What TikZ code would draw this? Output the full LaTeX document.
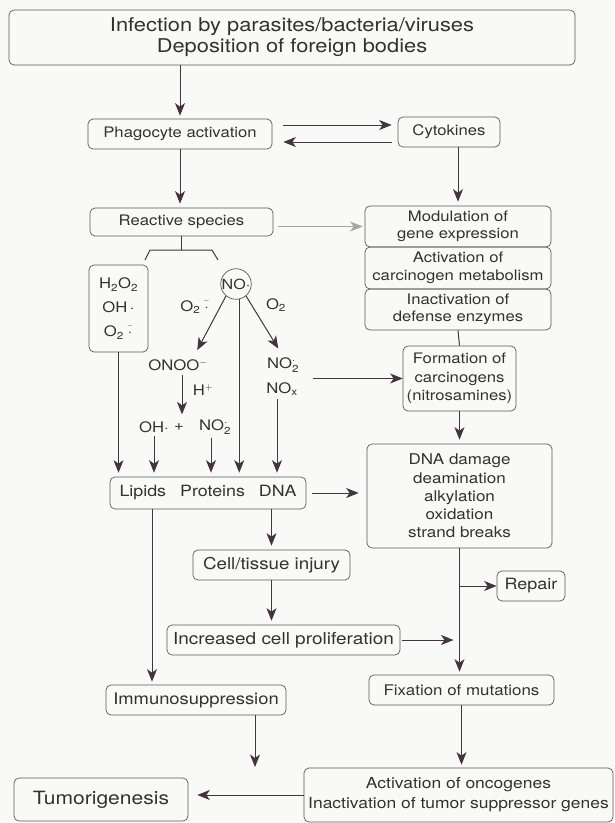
\documentclass[tikz,border=0pt]{standalone}
\usepackage{amsmath}
\usepackage{fontspec}
\setmainfont{TeX Gyre Heros}[FakeStretch=1.15]
\usetikzlibrary{arrows.meta}
\definecolor{ink}{RGB}{68,52,62}
\definecolor{rim}{RGB}{90,90,90}
\definecolor{txt}{RGB}{50,50,50}
\definecolor{paper}{RGB}{249,249,247}
\newcommand{\fs}[2]{\fontsize{#1}{#2}\selectfont}
\newcommand{\rad}{$_{\text{2}}^{\text{·}}$}
\newcommand{\supox}{O$_{\text{2}}\mskip4mu\overset{\raisebox{-2pt}{$\scriptscriptstyle-$}}{\cdot}$}

\begin{document}
\begin{tikzpicture}[x=1pt,y=-1pt,
  box/.style={draw=rim, line width=0.7pt, rounded corners=5pt, inner sep=0pt, align=center, text=txt},
  chem/.style={text=txt, font=\fs{14.5}{16}, inner sep=1pt},
  ln/.style={draw=ink, line width=1pt},
  arr/.style={ln, -{Stealth[length=12.5pt,width=10pt,inset=3.5pt]}}]
\fill[paper] (0,0) rectangle (614,823);
\useasboundingbox (0,0) rectangle (614,823);

\node[box, minimum width=566, minimum height=55, font=\fs{19}{21}] (top) at (292,37.5) {Infection by parasites/bacteria/viruses\\Deposition of foreign bodies};
\node[box, minimum width=184, minimum height=30, font=\fs{14.5}{17}] (phago) at (180,134) {Phagocyte activation};
\node[box, minimum width=102, minimum height=30, font=\fs{14.5}{17}] (cyto) at (449,132) {Cytokines};
\node[box, minimum width=183, minimum height=28, font=\fs{14.5}{17}] (react) at (181.5,222) {Reactive species};
\node[box, minimum width=186, minimum height=41, font=\fs{14.5}{17.5}] (modul) at (458,226.5) {Modulation of\\gene expression};
\node[box, minimum width=186, minimum height=42, font=\fs{14.5}{17.5}] (carc) at (458,268) {Activation of\\carcinogen metabolism};
\node[box, minimum width=186, minimum height=41, font=\fs{14.5}{17.5}] (inact) at (458,309.5) {Inactivation of\\defense enzymes};
\node[box, minimum width=113, minimum height=65, font=\fs{14.5}{18.5}] (form) at (459.5,378.5) {Formation of\\carcinogens\\(nitrosamines)};

\node[box, minimum width=59, minimum height=87, font=\fs{14.5}{24}] (h2o2) at (118.5,308.5) {H$_{\text{2}}$O$_{\text{2}}$\\OH\,·\\\supox};
\node[draw=rim, line width=0.7pt, circle, minimum size=30, inner sep=0pt, text=txt, font=\fs{14}{17}] (no) at (236,284) {NO·};
\node[chem] (o2a) at (195,305) {\supox};
\node[chem] (o2b) at (276,305) {O$_{\text{2}}$};
\node[chem] (onoo) at (178,365) {ONOO$^{-}$};
\node[chem] (no2) at (283,365) {NO\rad};
\node[chem] (nox) at (282,389) {NO$_{\text{x}}$};
\node[chem] (hp) at (203,390) {H$^{+}$};
\node[chem] (oh) at (154,427) {OH·};
\node[chem] (plus) at (179,427) {+};
\node[chem] (no2b) at (215,427) {NO\rad};

\node[box, minimum width=196, minimum height=32, font=\fs{15.5}{18}] (lip) at (208,493) {Lipids\hspace{14pt}Proteins\hspace{14pt}DNA};
\node[box, minimum width=185, minimum height=104, font=\fs{14.8}{18.2}] (dna) at (459.5,496) {DNA damage\\deamination\\alkylation\\oxidation\\strand breaks};
\node[box, minimum width=157, minimum height=30, font=\fs{16.3}{19}] (cell) at (271.5,565) {Cell/tissue injury};
\node[box, minimum width=233, minimum height=30, font=\fs{16.5}{19}] (incr) at (283.5,640) {Increased cell proliferation};
\node[box, minimum width=68, minimum height=30, font=\fs{15.6}{18}] (rep) at (531,586) {Repair};
\node[box, minimum width=185, minimum height=30, font=\fs{14.7}{17}] (fix) at (461.5,690) {Fixation of mutations};
\node[box, minimum width=180, minimum height=30, font=\fs{16}{19}] (imm) at (196,700) {Immunosuppression};
\node[box, minimum width=309, minimum height=54, font=\fs{15.2}{20}] (onc) at (458.5,795) {Activation of oncogenes\\Inactivation of tumor suppressor genes};
\node[box, minimum width=174, minimum height=43, font=\fs{18.3}{21}] (tum) at (101,799.5) {Tumorigenesis};
\coordinate (imend) at (255,767);

\draw[arr, shorten >=3pt] (phago.north |- top.south) -- (phago.north);
\draw[arr, shorten <=11pt, shorten >=6pt] ([yshift=9pt]phago.east) -- ([yshift=9pt]phago.east -| cyto.west);
\draw[arr, shorten <=6pt, shorten >=11pt] ([yshift=-10pt]cyto.west) -- ([yshift=-10pt]cyto.west -| phago.east);
\draw[arr, shorten >=4pt] (phago.south) -- (phago.south |- react.north);
\draw[arr, shorten >=4pt] (modul.north |- cyto.south) -- (modul.north);
\draw[arr, draw=gray!70, line width=0.6pt, shorten <=5pt, shorten >=2pt] (modul.west -| react.east) -- (modul.west);
\draw[ln] (react.south) -- ++(0,14);
\draw[ln] (145,260) -- (150,250) -- (212,250) -- (218,260);
\draw[ln] (inact.south) -- (form.north);

\draw[arr, shorten >=9pt] (no.-130) -- ([xshift=15pt]onoo.north);
\draw[arr, shorten >=9pt] (no.-50) -- (no2.north);
\draw[arr, shorten >=4pt] (no.-78) -- (no.-78 |- lip.north);
\draw[arr, shorten >=4pt] (h2o2.south) -- (h2o2.south |- lip.north);
\draw[arr, shorten <=3pt, shorten >=8pt] ([xshift=4pt]onoo.south) -- ([xshift=4pt]onoo.south |- plus.north);
\draw[arr, shorten <=2pt, shorten >=4pt] (oh.south) -- (oh.south |- lip.north);
\draw[arr, shorten <=2pt, shorten >=4pt] ([xshift=-4pt]no2b.south) -- ([xshift=-4pt]no2b.south |- lip.north);
\draw[arr, shorten <=2pt, shorten >=4pt] ([xshift=-5pt]nox.south) -- ([xshift=-5pt]nox.south |- lip.north);
\draw[arr, shorten <=14pt] (form.west -| nox.east) -- (form.west);
\draw[arr, shorten >=4pt] (form.south) -- (form.south |- dna.north);

\draw[arr, shorten <=6pt, shorten >=8pt] (lip.east) -- (lip.east -| dna.west);
\draw[arr, shorten >=4pt] (cell.north |- lip.south) -- (cell.north);
\draw[arr, shorten >=4pt] (cell.south) -- (cell.south |- incr.north);
\draw[arr, shorten <=2pt, shorten >=6pt] (incr.east) -- (incr.east -| dna.south);
\draw[arr, shorten >=3pt] (dna.south) -- (dna.south |- fix.north);
\draw[arr] (rep.west -| dna.south) -- (rep.west);
\draw[arr, shorten >=3pt] (fix.south) -- (fix.south |- onc.north);
\draw[arr, shorten >=3pt] ([xshift=-56pt]lip.south) -- ([xshift=-56pt]lip.south |- imm.north);
\draw[arr] (imm.south -| imend) -- (imend);
\draw[arr, shorten >=9pt] (onc.west) -- (onc.west -| tum.east);
\end{tikzpicture}
\end{document}
